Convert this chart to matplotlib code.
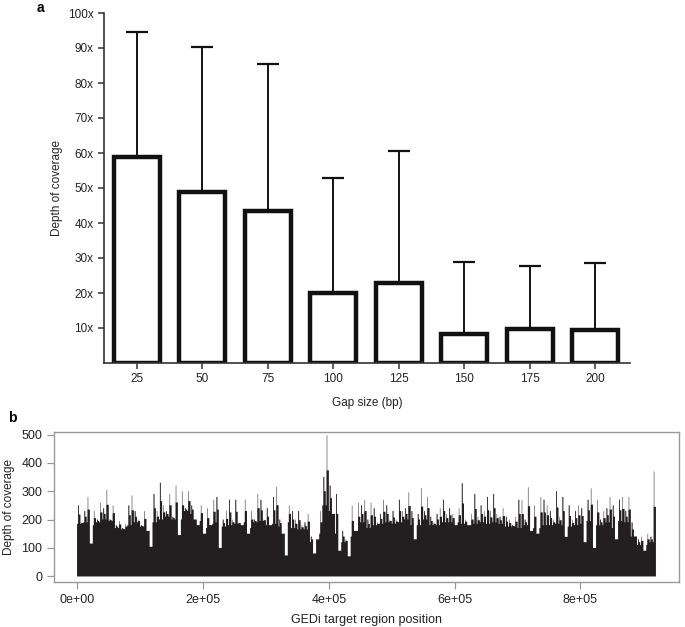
import matplotlib
matplotlib.use("Agg")
import matplotlib.pyplot as plt
import numpy as np

plt.rcParams['font.family'] = ['Liberation Sans', 'DejaVu Sans']

# ---- Panel a data ----
gap_sizes = ["25", "50", "75", "100", "125", "150", "175", "200"]
mean_depth = [59.0, 48.9, 43.3, 20.1, 23.0, 8.2, 9.6, 9.3]
upper_bound = [94.6, 90.4, 85.3, 52.8, 60.7, 28.8, 27.7, 28.5]

# ---- Panel b data ----
bin_step = 5000
peak_cov = [
    250, 190, 230, 280, 115, 230, 200, 260, 240, 304,
    200, 250, 180, 195, 170, 185, 250, 285, 230, 200,
    180, 230, 160, 104, 290, 230, 330, 250, 230, 290,
    210, 320, 145, 300, 240, 300, 250, 200, 180, 250,
    150, 240, 180, 270, 280, 100, 200, 230, 270, 200,
    270, 190, 180, 270, 150, 230, 200, 290, 270, 200,
    240, 180, 280, 316, 200, 150, 73, 250, 230, 200,
    230, 180, 190, 220, 140, 80, 130, 230, 350, 497,
    320, 220, 290, 90, 160, 130, 70, 250, 160, 260,
    250, 270, 200, 260, 240, 190, 220, 270, 250, 200,
    230, 200, 270, 230, 240, 296, 230, 130, 220, 311,
    230, 280, 210, 190, 220, 240, 270, 220, 240, 220,
    180, 240, 328, 200, 180, 220, 290, 210, 250, 230,
    280, 230, 290, 220, 210, 240, 210, 200, 180, 210,
    270, 269, 200, 314, 160, 250, 150, 280, 270, 250,
    230, 200, 300, 210, 280, 139, 250, 200, 230, 250,
    240, 120, 270, 310, 100, 270, 200, 230, 240, 280,
    250, 130, 270, 280, 230, 280, 190, 140, 130, 140,
    90, 150, 140, 370,
]
base_step = 10000
base_cov = [
    185, 190, 180, 190, 200, 195, 170, 165, 180, 190,
    175, 160, 190, 200, 210, 200, 200, 230, 220, 195,
    170, 185, 190, 175, 180, 185, 190, 170, 190, 195,
    180, 185, 175, 190, 170, 165, 165, 120, 150, 250,
    230, 150, 120, 140, 160, 190, 170, 180, 185, 190,
    185, 190, 200, 180, 180, 200, 180, 180, 190, 190,
    190, 185, 180, 185, 190, 185, 190, 185, 175, 175,
    170, 180, 170, 170, 180, 180, 185, 180, 175, 180,
    185, 195, 180, 180, 190, 170, 195, 190, 140, 110,
    110, 120,
]

W, H = 685, 627
fig = plt.figure(figsize=(W / 100, H / 100), dpi=100)

# ---------------- Panel a ----------------
axa = fig.add_axes([104 / W, 1 - 363 / H, (630 - 104) / W, (363 - 13) / H])
xpos = np.arange(len(gap_sizes))
lower = [0] * len(mean_depth)
upper = [u - m for u, m in zip(upper_bound, mean_depth)]
axa.errorbar(xpos, mean_depth, yerr=[lower, upper], fmt='none', ecolor='#111111',
             elinewidth=1.4, capsize=8, capthick=1.6, zorder=1)
axa.bar(xpos, mean_depth, width=0.7, color='white', edgecolor='#111111',
        linewidth=3.2, zorder=2)
axa.set_xlim(-0.5, 7.53)
axa.set_ylim(0, 100)
axa.set_yticks(np.arange(10, 101, 10))
axa.set_yticklabels([f"{v}x" for v in range(10, 101, 10)])
axa.set_xticks(xpos)
axa.set_xticklabels(gap_sizes)
for s in ['top', 'right']:
    axa.spines[s].set_visible(False)
for s in ['left', 'bottom']:
    axa.spines[s].set_linewidth(1.2)
    axa.spines[s].set_color('#333333')
axa.tick_params(axis='both', direction='out', length=4, width=1.1, colors='#333333',
                labelsize=8.5, labelcolor='#222222')
axa.set_ylabel("Depth of coverage", fontsize=8.5, color='#222222')
axa.yaxis.set_label_coords((63 - 104) / 526, 0.5)
axa.set_xlabel("Gap size (bp)", fontsize=8.5, color='#222222', labelpad=8)
fig.text(40 / W, 1 - 8 / H, "a", fontsize=10, fontweight='bold', ha='center', va='center')

# ---------------- Panel b ----------------
axb = fig.add_axes([54 / W, 1 - 582 / H, (679 - 54) / W, (582 - 432) / H])
base_per_bin = np.repeat(base_cov, base_step // bin_step)[:len(peak_cov)]
edges, full_vals, dark_vals = [], [], []
for i, (p, b) in enumerate(zip(peak_cov, base_per_bin)):
    x0 = i * bin_step
    mid = (p + b) / 2 if p > b else p
    # sub-segments inside each bin: base level, spike, intermediate level
    edges += [x0, x0 + 1600, x0 + 2800]
    full_vals += [b if p > b else p, p, mid]
    dark_vals += [b if p > b else p, p if i % 2 == 0 else mid, mid]
edges.append(len(peak_cov) * bin_step)
axb.stairs(full_vals, edges, fill=True, color='#6a6a6a', linewidth=0, baseline=0)
axb.stairs(dark_vals, edges, fill=True, color='#231f20', linewidth=0, baseline=0)
axb.set_xlim(-36800, 956800)
axb.set_ylim(-20, 509)
axb.set_yticks([0, 100, 200, 300, 400, 500])
axb.set_xticks([0, 200000, 400000, 600000, 800000])
axb.set_xticklabels(["0e+00", "2e+05", "4e+05", "6e+05", "8e+05"])
for s in axb.spines.values():
    s.set_color('#999999')
    s.set_linewidth(1.0)
axb.tick_params(axis='both', direction='out', length=5, width=0.9, colors='#999999',
                labelsize=9, labelcolor='#222222')
axb.set_ylabel("Depth of coverage", fontsize=8.5, color='#222222')
axb.yaxis.set_label_coords((15 - 54) / 625, 0.5)
axb.set_xlabel("GEDi target region position", fontsize=9, color='#222222', labelpad=6)
fig.text(8 / W, 1 - 418 / H, "b", fontsize=10, fontweight='bold', ha='left', va='center')

fig.savefig("out.png", dpi=100)
